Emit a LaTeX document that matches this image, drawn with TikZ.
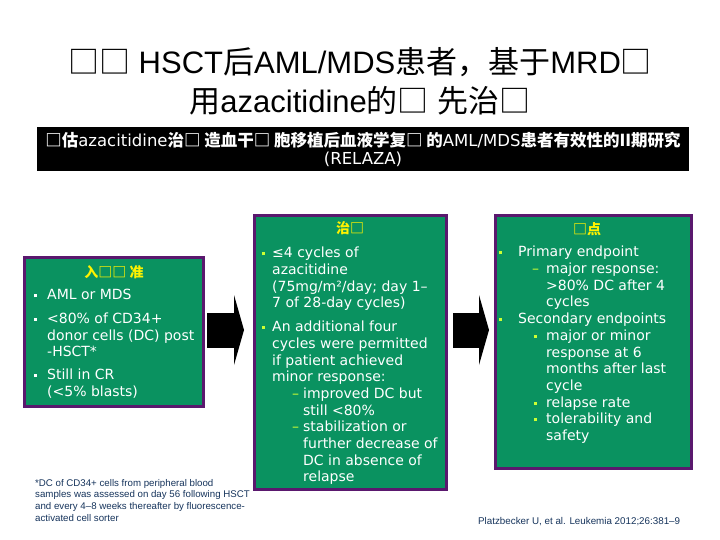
\documentclass[tikz,border=0pt]{standalone}
\usepackage{fontspec}
\setmainfont{DejaVu Sans}
\newfontfamily\slidefont{Liberation Sans}
\newfontfamily\cjk{Noto Sans CJK SC}
\usetikzlibrary{arrows.meta}
\definecolor{panelgreen}{RGB}{10,146,96}
\definecolor{panelpurple}{RGB}{90,24,110}
\definecolor{dotgreen}{RGB}{204,255,51}
\definecolor{notenavy}{RGB}{22,52,92}
\newcommand{\zh}[1]{{\cjk #1}}
\newcommand{\zhb}[1]{{\cjk\bfseries #1}}
\newcommand{\itm}[2]{\makebox[#1][l]{\textcolor{#2}{\rule[2.6pt]{3pt}{3pt}}}}
\newcommand{\sub}[1]{\makebox[#1][l]{\textcolor{dotgreen}{–}}}

\begin{document}
\begin{tikzpicture}[x=1pt,y=-1pt,
        panel/.style={draw=panelpurple, line width=3pt, fill=panelgreen, inner sep=0pt},
        body/.style={anchor=north west, align=left, inner sep=0pt, text=white, font=\fontsize{14}{16.7}\selectfont},
        head/.style={inner sep=0pt, text=yellow, font=\cjk\bfseries\fontsize{14}{16}\selectfont},
        blockarrow/.style={line width=35pt, -{Triangle[length=10pt,width=70pt,line width=0pt]}},
        note/.style={inner sep=0pt, align=left, text=notenavy, font=\slidefont\fontsize{9.7}{11.6}\selectfont}]
    \useasboundingbox[fill=white] (0,0) rectangle (720,540);

    \node[align=center, inner sep=0pt, font=\slidefont\fontsize{31}{39}\selectfont] (title) at (360,81)
        {\zh{□□} HSCT\zh{后}AML/MDS\zh{患者，基于}MRD\zh{□}\\\zh{用}azacitidine\zh{的□} \zh{先治□}};
    \node[fill=black, text=white, align=center, inner sep=0pt, minimum width=652pt, minimum height=44pt,
        font=\fontsize{16.5}{18}\selectfont] (study) at (363,149)
        {\zhb{□估}azacitidine\zhb{治□ 造血干□ 胞移植后血液学复□ 的}AML/MDS\zhb{患者有效性的II期研究}\\(RELAZA)};

    \node[panel, minimum width=179pt, minimum height=149pt] (crit) at (113.5,331.5) {};
    \node[panel, minimum width=192pt, minimum height=273pt] (treat) at (350,352.5) {};
    \node[panel, minimum width=196pt, minimum height=252pt] (ends) at (593,342) {};

    \coordinate (lvl) at (0,330);
    \draw[blockarrow, shorten <=2.5pt, shorten >=8.5pt] (crit.east |- lvl) -- (treat.west |- lvl);
    \draw[blockarrow, shorten <=5.5pt, shorten >=4.5pt] (treat.east |- lvl) -- (ends.west |- lvl);

    \node[head] (critH) at (114,272) {入□□ 准};
    \node[head] (treatH) at (350,228) {治□};
    \node[head] (endsH) at (587,229) {□点};

    \node[body] (critT) at (34,288) {\strut\itm{13pt}{white}AML or MDS\\[7pt]
        \itm{13pt}{white}<80\% of CD34+\\
        \hspace*{13pt}donor cells (DC) post\\
        \hspace*{13pt}-HSCT*\\[6pt]
        \itm{13pt}{white}Still in CR\\
        \hspace*{13pt}(<5\% blasts)};
    \node[body] (treatT) at (262,246) {\strut\itm{10pt}{dotgreen}≤4 cycles of\\
        \hspace*{10pt}azacitidine\\
        \hspace*{10pt}(75mg/m²/day; day 1–\\
        \hspace*{10pt}7 of 28-day cycles)\\[7pt]
        \itm{10pt}{dotgreen}An additional four\\
        \hspace*{10pt}cycles were permitted\\
        \hspace*{10pt}if patient achieved\\
        \hspace*{10pt}minor response:\\
        \hspace*{30pt}\sub{11pt}improved DC but\\
        \hspace*{41pt}still <80\%\\
        \hspace*{30pt}\sub{11pt}stabilization or\\
        \hspace*{41pt}further decrease of\\
        \hspace*{41pt}DC in absence of\\
        \hspace*{41pt}relapse};
    \node[body] (endsT) at (499,245) {\strut\itm{19pt}{dotgreen}Primary endpoint\\
        \hspace*{33pt}\sub{14pt}major response:\\
        \hspace*{47pt}>80\% DC after 4\\
        \hspace*{47pt}cycles\\
        \itm{19pt}{dotgreen}Secondary endpoints\\
        \hspace*{35pt}\itm{12pt}{dotgreen}major or minor\\
        \hspace*{47pt}response at 6\\
        \hspace*{47pt}months after last\\
        \hspace*{47pt}cycle\\
        \hspace*{35pt}\itm{12pt}{dotgreen}relapse rate\\
        \hspace*{35pt}\itm{12pt}{dotgreen}tolerability and\\
        \hspace*{47pt}safety};

    \node[note, anchor=north west] (foot) at (35,478) {\strut*DC of CD34+ cells from peripheral blood\\
        samples was assessed on day 56 following HSCT\\
        and every 4–8 weeks thereafter by fluorescence-\\
        activated cell sorter};
    \node[note, anchor=base west, font=\slidefont\fontsize{9.8}{11.6}\selectfont] (cite) at (478,524.5)
        {Platzbecker U, et al. Leukemia 2012;26:381–9};
\end{tikzpicture}
\end{document}
